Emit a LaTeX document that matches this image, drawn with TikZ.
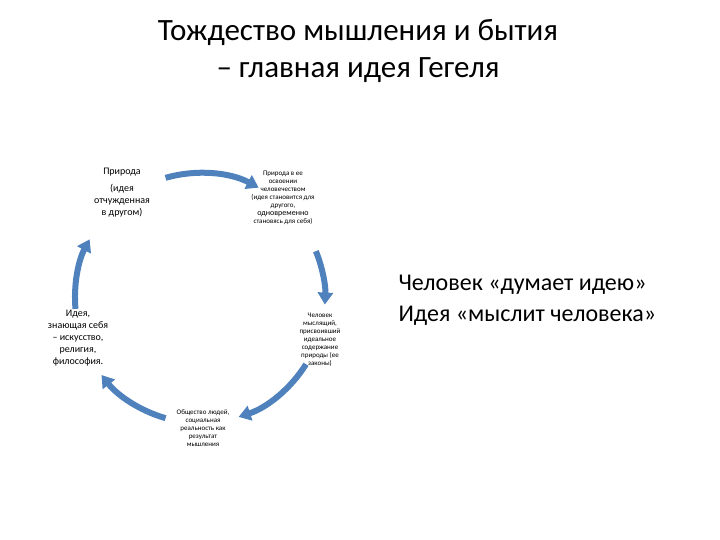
\documentclass[tikz,border=0pt]{standalone}
\usepackage{fontspec}
\setmainfont{Carlito}
\usetikzlibrary{arrows.meta}
\definecolor{arc}{RGB}{79,129,189}
\begin{document}
\begin{tikzpicture}[x=1pt,y=-1pt,
  arcarrow/.style={draw=arc,line width=6pt,-{Triangle[width=15pt,length=12pt]}},
  small/.style={align=center,font=\fontsize{7}{8}\selectfont,inner sep=0pt},
  mid/.style={align=center,font=\fontsize{10}{12}\selectfont,inner sep=0pt}]
\useasboundingbox (0,0) rectangle (720,540);
\node[font=\fontsize{31}{37}\selectfont,align=center] (title) at (358,51) {Тождество мышления и бытия\\– главная идея Гегеля};
\coordinate (c) at (200,298);
\node[mid] (n1) at (122,193) {Природа\\[5pt](идея\\отчужденная\\в другом)};
\node[small] (n2) at (283,198) {Природа в ее\\освоении\\человечеством\\(идея становится для\\другого,\\{\fontsize{8}{9}\selectfont одновременно}\\становясь для себя)};
\node[small] (n3) at (320,340) {Человек\\мыслящий,\\присвоивший\\идеальное\\содержание\\природы (ее\\законы)};
\node[small] (n4) at (203,428) {Общество людей,\\социальная\\реальность как\\результат\\мышления};
\node[mid] (n5) at (78,338) {Идея,\\знающая себя\\– искусство,\\религия,\\философия.};
\node[font=\fontsize{24}{31}\selectfont,align=left,anchor=west] (q) at (395,300) {Человек «думает идею»\\Идея «мыслит человека»};
\draw[arcarrow] ([shift={(-106:125)}]c) arc[start angle=-106,end angle=-62,radius=125];
\draw[arcarrow] ([shift={(-22:125)}]c) arc[start angle=-22,end angle=3,radius=125];
\draw[arcarrow] ([shift={(32:125)}]c) arc[start angle=32,end angle=72,radius=125];
\draw[arcarrow] ([shift={(106:125)}]c) arc[start angle=106,end angle=142,radius=125];
\draw[arcarrow] ([shift={(175:125)}]c) arc[start angle=175,end angle=208,radius=125];
\end{tikzpicture}
\end{document}
